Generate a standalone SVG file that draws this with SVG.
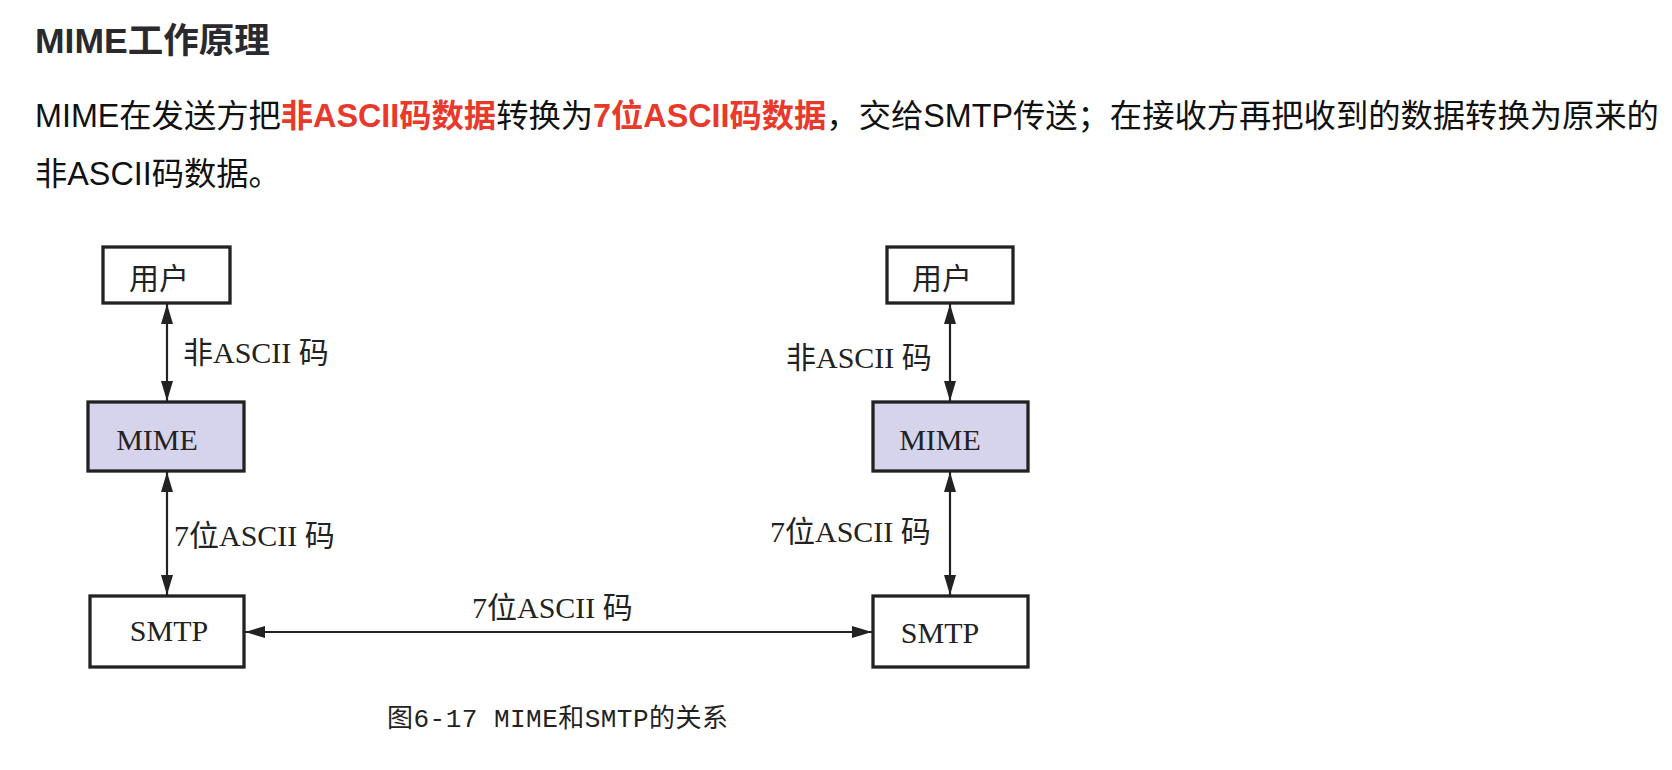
<svg xmlns="http://www.w3.org/2000/svg" width="1672" height="770" viewBox="0 0 1672 770">
<style>
.title{font-family:"Liberation Sans","Noto Sans CJK SC",sans-serif;font-weight:bold;font-size:35.5px;fill:#2a2a2e}
.para{font-family:"Liberation Sans","Noto Sans CJK SC",sans-serif;font-size:32.3px;fill:#111}
.hl{fill:#e8392b;font-weight:bold}
.box{stroke:#222;stroke-width:3.3;fill:#fff}
.mime{fill:#d6d4ec}
.lbl{font-family:"Liberation Serif","Noto Sans CJK SC",serif;font-size:30px;fill:#222}
.blbl{font-family:"Liberation Serif","Noto Sans CJK SC",serif;font-size:30px;fill:#222;text-anchor:middle}
.conn{stroke:#222;stroke-width:2.2;fill:none}
.cap{font-family:"Liberation Mono","Noto Sans CJK SC",monospace;font-size:26px;fill:#222}
</style>
<defs>
<marker id="ah" viewBox="0 0 20 12" refX="20" refY="6" markerWidth="20" markerHeight="12" markerUnits="userSpaceOnUse" orient="auto-start-reverse"><path d="M0,0 L20,6 L0,12 z" fill="#222"/></marker>
</defs>
<rect width="1672" height="770" fill="#fff"/>
<text class="title" x="35" y="53">MIME工作原理</text>
<text class="para" x="35" y="127">MIME在发送方把<tspan class="hl">非ASCII码数据</tspan>转换为<tspan class="hl">7位ASCII码数据</tspan>，交给SMTP传送；在接收方再把收到的数据转换为原来的</text>
<text class="para" x="35" y="185">非ASCII码数据。</text>

<g id="user-left"><rect class="box" x="103" y="247" width="127" height="56"/><text class="blbl" x="159" y="289">用户</text></g>
<g id="mime-left"><rect class="box mime" x="88" y="402" width="156" height="69"/><text class="blbl" x="157" y="450">MIME</text></g>
<g id="smtp-left"><rect class="box" x="90" y="596" width="154" height="71"/><text class="blbl" x="169" y="641">SMTP</text></g>
<g id="user-right"><rect class="box" x="887" y="247" width="126" height="56"/><text class="blbl" x="942" y="289">用户</text></g>
<g id="mime-right"><rect class="box mime" x="873" y="402" width="155" height="69"/><text class="blbl" x="940" y="450">MIME</text></g>
<g id="smtp-right"><rect class="box" x="873" y="596" width="155" height="71"/><text class="blbl" x="940" y="643">SMTP</text></g>

<g id="connectors">
<line class="conn" x1="167" y1="304" x2="167" y2="401" marker-start="url(#ah)" marker-end="url(#ah)"/>
<line class="conn" x1="167" y1="472" x2="167" y2="595" marker-start="url(#ah)" marker-end="url(#ah)"/>
<line class="conn" x1="950" y1="304" x2="950" y2="401" marker-start="url(#ah)" marker-end="url(#ah)"/>
<line class="conn" x1="950" y1="472" x2="950" y2="595" marker-start="url(#ah)" marker-end="url(#ah)"/>
<line class="conn" x1="245" y1="632" x2="872" y2="632" marker-start="url(#ah)" marker-end="url(#ah)"/>
<text class="lbl" x="183" y="363">非ASCII 码</text>
<text class="lbl" x="174" y="546">7位ASCII 码</text>
<text class="lbl" x="786" y="368">非ASCII 码</text>
<text class="lbl" x="770" y="542">7位ASCII 码</text>
<text class="lbl" x="472" y="618">7位ASCII 码</text>
</g>
<text class="cap" x="387" y="727" textLength="341" lengthAdjust="spacing">图6-17 MIME和SMTP的关系</text>
</svg>
